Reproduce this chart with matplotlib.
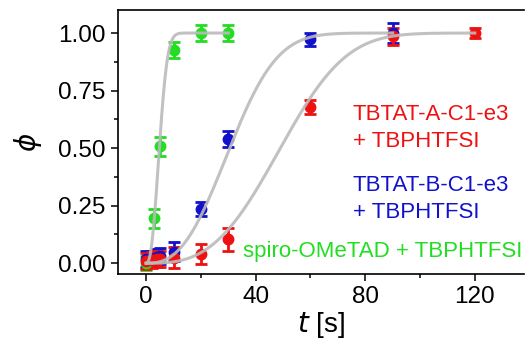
import numpy as np
import matplotlib
matplotlib.use("Agg")
import matplotlib.pyplot as plt
from matplotlib.ticker import MultipleLocator

plt.rcParams['font.family'] = ['Liberation Sans', 'DejaVu Sans']

# measured points (t in s, phi, error)
t_a = [0, 2, 4, 5, 10, 20, 30, 60, 90, 120]
phi_a = [0.01, 0.015, 0.02, 0.02, 0.024, 0.04, 0.105, 0.678, 0.985, 1.0]
err_a = [0.035, 0.035, 0.035, 0.035, 0.045, 0.045, 0.05, 0.03, 0.035, 0.02]

t_b = [0, 2, 4, 5, 10, 20, 30, 60, 90]
phi_b = [0.02, 0.02, 0.025, 0.03, 0.05, 0.235, 0.54, 0.972, 1.0]
err_b = [0.035, 0.035, 0.035, 0.035, 0.04, 0.03, 0.035, 0.03, 0.045]

t_c = [0, 3, 5, 10, 20, 30]
phi_c = [0.0, 0.195, 0.507, 0.927, 1.0, 1.0]
err_c = [0.03, 0.04, 0.04, 0.035, 0.035, 0.035]

# Avrami fit parameters (t_half, n) and fit range
fit_a = (49.0, 3.0, 120)
fit_b = (30.5, 2.6, 90)
fit_c = (4.8, 2.4, 30)

red = '#EE1111'
blue = '#1111CC'
green = '#22DD22'


def avrami(t, t_half, n):
    return 1 - np.exp(-np.log(2) * (t / t_half) ** n)


fig = plt.figure(figsize=(5.28, 3.49), dpi=100)
ax = fig.add_axes([0.2235, 0.2149, 0.769, 0.7564])

# green first so it sits underneath the others near t = 0
for t, phi, err, col, fit in [(t_c, phi_c, err_c, green, fit_c),
                              (t_b, phi_b, err_b, blue, fit_b),
                              (t_a, phi_a, err_a, red, fit_a)]:
    ax.errorbar(t, phi, yerr=err, fmt='o', color=col, ms=7.5, mec=col,
                elinewidth=2, capsize=4, capthick=2, zorder=2)
    tt = np.linspace(0, fit[2], 400)
    ax.plot(tt, avrami(tt, fit[0], fit[1]), color='#BBBBBB', lw=2.2,
            alpha=0.9, zorder=3)

ax.set_xlim(-10.3, 138)
ax.set_ylim(-0.047, 1.10)
ax.xaxis.set_major_locator(MultipleLocator(40))
ax.xaxis.set_minor_locator(MultipleLocator(20))
ax.yaxis.set_major_locator(MultipleLocator(0.25))
ax.yaxis.set_minor_locator(MultipleLocator(0.125))
ax.yaxis.set_major_formatter(matplotlib.ticker.FormatStrFormatter('%.2f'))
ax.spines['right'].set_visible(False)
for s in ['left', 'bottom', 'top']:
    ax.spines[s].set_linewidth(1.2)
ax.tick_params(which='major', direction='out', length=5, width=1.1,
               labelsize=17.5, pad=4)
ax.tick_params(which='minor', direction='out', length=3, width=1.1)

ax.set_xlabel(r'$t$ [s]', fontsize=20, labelpad=1)
ax.set_ylabel(r'$\phi$', fontsize=20, labelpad=10)

ax.text(0.578, 0.553, 'TBTAT-A-C1-e3\n+ TBPHTFSI', color=red, fontsize=16,
        transform=ax.transAxes, linespacing=1.4, va='center')
ax.text(0.578, 0.284, 'TBTAT-B-C1-e3\n+ TBPHTFSI', color=blue, fontsize=16,
        transform=ax.transAxes, linespacing=1.4, va='center')
ax.text(0.995, 0.087, 'spiro-OMeTAD + TBPHTFSI', color=green, fontsize=16,
        transform=ax.transAxes, ha='right', va='center')

fig.savefig('out.png', dpi=100)
